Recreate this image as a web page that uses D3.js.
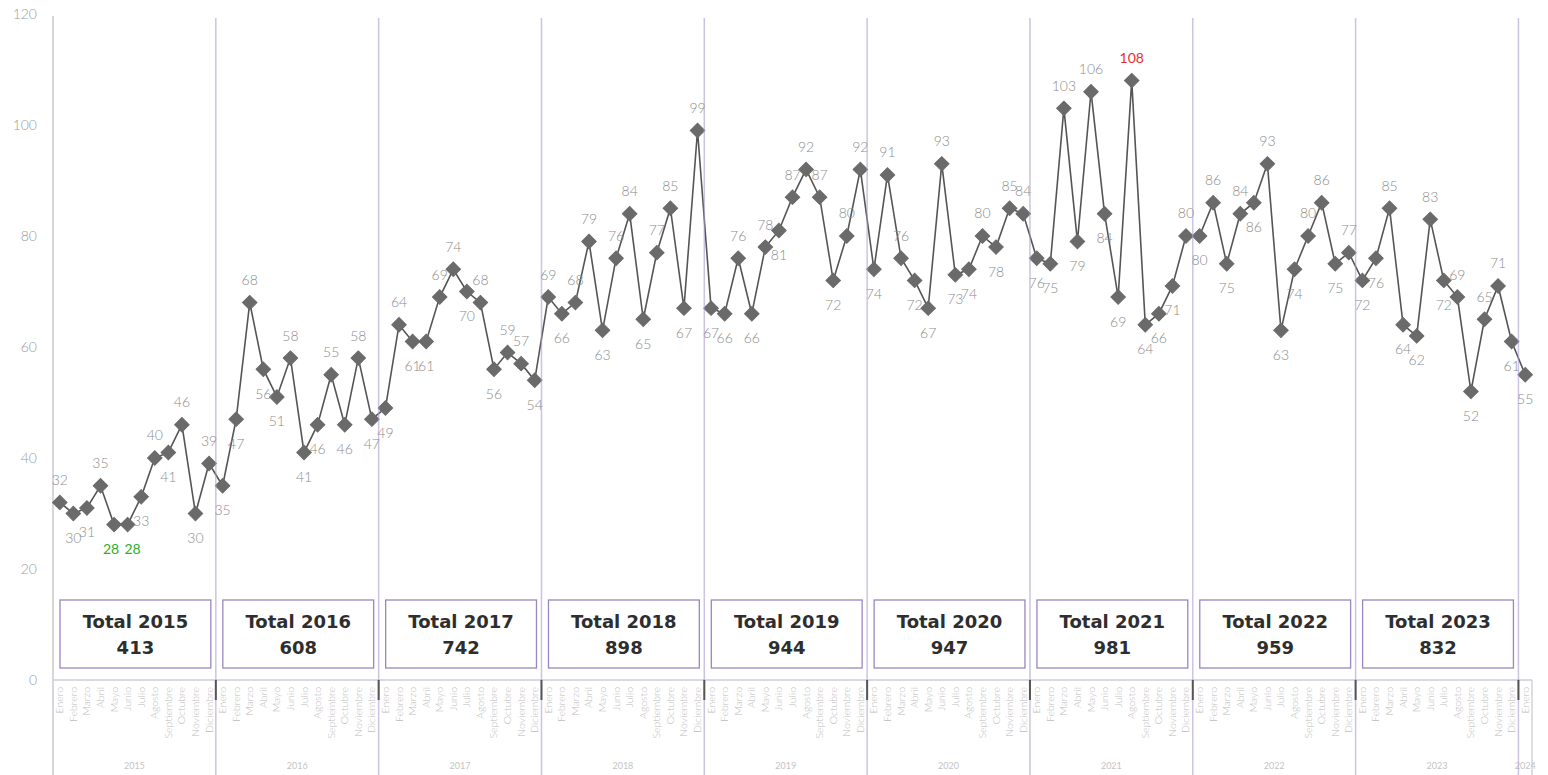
<!DOCTYPE html>
<html>
<head>
<meta charset="utf-8">
<script src="https://cdn.jsdelivr.net/npm/d3@7"></script>
<style>
  body { margin: 0; background: #fff; }
  .chart text { font-family: Lato, "Open Sans", sans-serif; }
  .axis-y text { fill: #9a9a9a; font-size: 14px; font-weight: 300; }
  .month-label { fill: #bdbdbd; font-size: 10.5px; font-weight: 300; }
  .year-label { fill: #c4c4c4; font-size: 9px; }
  .point-label { fill: #8c8c8c; font-size: 14px; font-weight: 300; }
  .chart text.total-text { fill: #2e2e2e; font-size: 18px; font-weight: 700;
      font-family: "DejaVu Sans", sans-serif; }
</style>
</head>
<body>
<div class="chart"></div>
<script>
// Month names (x axis) and years
var MONTHS = ["Enero", "Febrero", "Marzo", "Abril", "Mayo", "Junio", "Julio",
    "Agosto", "Septiembre", "Octubre", "Noviembre", "Diciembre"];
var YEARS = [2015, 2016, 2017, 2018, 2019, 2020, 2021, 2022, 2023, 2024];

// Monthly counts per year
var counts_2015 = [32, 30, 31, 35, 28, 28, 33, 40, 41, 46, 30, 39];
var counts_2016 = [35, 47, 68, 56, 51, 58, 41, 46, 55, 46, 58, 47];
var counts_2017 = [49, 64, 61, 61, 69, 74, 70, 68, 56, 59, 57, 54];
var counts_2018 = [69, 66, 68, 79, 63, 76, 84, 65, 77, 85, 67, 99];
var counts_2019 = [67, 66, 76, 66, 78, 81, 87, 92, 87, 72, 80, 92];
var counts_2020 = [74, 91, 76, 72, 67, 93, 73, 74, 80, 78, 85, 84];
var counts_2021 = [76, 75, 103, 79, 106, 84, 69, 108, 64, 66, 71, 80];
var counts_2022 = [80, 86, 75, 84, 86, 93, 63, 74, 80, 86, 75, 77];
var counts_2023 = [72, 76, 85, 64, 62, 83, 72, 69, 52, 65, 71, 61];
var counts_2024 = [55];

// Y axis ticks
var Y_TICKS = [0, 20, 40, 60, 80, 100, 120];

var counts_by_year = [counts_2015, counts_2016, counts_2017, counts_2018, counts_2019,
    counts_2020, counts_2021, counts_2022, counts_2023, counts_2024];

// Flatten into one series of points
var points = [];
counts_by_year.forEach(function (arr, yi) {
    arr.forEach(function (v, mi) {
        points.push({ year: YEARS[yi], month: MONTHS[mi], value: v, idx: points.length });
    });
});

// Labels that sit on the other side than the neighbour rule says
var LABEL_FLIP = [38, 58, 62, 63, 91];

var W = 1548, H = 775;
var PLOT_LEFT = 53, PLOT_RIGHT = 1532;
var PLOT_TOP = 14, PLOT_BOTTOM = 680;

var svg = d3.select(".chart").append("svg")
        .attr("width", W)
        .attr("height", H);

var x = d3.scaleBand()
        .domain(points.map(function (d) { return d.idx; }))
        .range([PLOT_LEFT, PLOT_RIGHT])
        .padding(0);
var bw = x.bandwidth();
function cx(i) { return x(i) + bw / 2; }

var y = d3.scaleLinear().domain([0, 120]).range([PLOT_BOTTOM, PLOT_TOP]);

// Y axis labels, no line
var yAxis = svg.append("g").attr("class", "axis-y")
        .attr("transform", "translate(37,0)")
        .call(d3.axisLeft(y).tickValues(Y_TICKS).tickSize(0).tickPadding(0));
yAxis.select(".domain").remove();

// Left axis line
svg.append("line")
        .attr("x1", PLOT_LEFT).attr("x2", PLOT_LEFT)
        .attr("y1", y(120) + 2).attr("y2", H)
        .attr("stroke", "#c9c9cf").attr("stroke-width", 1.5);

// Baseline
svg.append("line")
        .attr("x1", PLOT_LEFT).attr("x2", PLOT_RIGHT)
        .attr("y1", y(0)).attr("y2", y(0))
        .attr("stroke", "#cfcbd8").attr("stroke-width", 1.5);

// Year start positions
var yearStarts = YEARS.map(function (yr, i) { return x(i * 12); });

// Total boxes
var totalYears = YEARS.slice(0, 9);
var boxes = svg.append("g");
totalYears.forEach(function (yr, i) {
    var x0 = yearStarts[i] + 7, x1 = yearStarts[i + 1] - 5;
    var total = d3.sum(counts_by_year[i]);
    boxes.append("rect")
            .attr("x", x0).attr("y", 600)
            .attr("width", x1 - x0).attr("height", 68)
            .attr("fill", "#fff")
            .attr("stroke", "#9a86c2").attr("stroke-width", 1.3);
    boxes.append("text").attr("class", "total-text")
            .attr("x", (x0 + x1) / 2).attr("y", 623)
            .attr("text-anchor", "middle").attr("dominant-baseline", "middle")
            .text("Total " + yr);
    boxes.append("text").attr("class", "total-text")
            .attr("x", (x0 + x1) / 2).attr("y", 649)
            .attr("text-anchor", "middle").attr("dominant-baseline", "middle")
            .text(total);
});

// Month labels, rotated
svg.append("g").selectAll("text")
        .data(points)
        .join("text")
        .attr("class", "month-label")
        .attr("transform", function (d) {
            return "translate(" + (cx(d.idx) + 3.5) + ",687) rotate(-90)";
        })
        .attr("text-anchor", "end")
        .text(function (d) { return d.month; });

// Year labels
svg.append("g").selectAll("text")
        .data(YEARS)
        .join("text")
        .attr("class", "year-label")
        .attr("x", function (d, i) {
            var end = i < YEARS.length - 1 ? yearStarts[i + 1] : PLOT_RIGHT;
            return (yearStarts[i] + end) / 2;
        })
        .attr("y", 769)
        .attr("text-anchor", "middle")
        .text(function (d) { return d; });

// The line
var line = d3.line()
        .x(function (d) { return cx(d.idx); })
        .y(function (d) { return y(d.value); });

svg.append("path")
        .datum(points)
        .attr("d", line)
        .attr("fill", "none")
        .attr("stroke", "#555")
        .attr("stroke-width", 1.6);

// Diamond markers
var diamond = d3.symbol().type(d3.symbolSquare).size(105);
svg.append("g").selectAll("path")
        .data(points)
        .join("path")
        .attr("d", diamond)
        .attr("transform", function (d) {
            return "translate(" + cx(d.idx) + "," + y(d.value) + ") rotate(45)";
        })
        .attr("fill", "#6a6a6a")
        .attr("stroke", "#6a6a6a")
        .attr("stroke-width", 1);

// Point labels: above if the point is higher than its neighbours' mean
var vmin = d3.min(points, function (d) { return d.value; });
var vmax = d3.max(points, function (d) { return d.value; });

function isAbove(d) {
    var prev = points[d.idx - 1], next = points[d.idx + 1];
    var pv = prev ? prev.value : d.value;
    var nv = next ? next.value : d.value;
    var up = d.value >= (pv + nv) / 2;
    if (LABEL_FLIP.indexOf(d.idx) !== -1) up = !up;
    return up;
}

// Spread the two equal minimum labels a little apart
var minIdx = points.filter(function (d) { return d.value === vmin; })
        .map(function (d) { return d.idx; });

svg.append("g").selectAll("text")
        .data(points)
        .join("text")
        .attr("class", "point-label")
        .attr("x", function (d) {
            var k = minIdx.indexOf(d.idx);
            if (minIdx.length > 1 && k !== -1) return cx(d.idx) + (k === 0 ? -3 : 5);
            return cx(d.idx);
        })
        .attr("y", function (d) { return y(d.value) + (isAbove(d) ? -21 : 26); })
        .attr("text-anchor", "middle")
        .attr("dominant-baseline", "middle")
        .style("fill", function (d) {
            if (d.value === vmin) return "#2ab02a";
            if (d.value === vmax) return "#e53030";
            return null;
        })
        .style("font-weight", function (d) {
            return (d.value === vmin || d.value === vmax) ? 400 : null;
        })
        .text(function (d) { return d.value; });

// Year separators, drawn on top
var seps = svg.append("g");
yearStarts.slice(1).forEach(function (xs) {
    seps.append("line")
            .attr("x1", xs).attr("x2", xs)
            .attr("y1", 18).attr("y2", H)
            .attr("stroke", "#a99bcc").attr("stroke-opacity", 0.6)
            .attr("stroke-width", 1.5);
    // dark tick under the baseline
    seps.append("line")
            .attr("x1", xs).attr("x2", xs)
            .attr("y1", y(0)).attr("y2", y(0) + 20)
            .attr("stroke", "#555").attr("stroke-width", 2);
});

// Right edge of the last (partial) year
svg.append("line")
        .attr("x1", PLOT_RIGHT).attr("x2", PLOT_RIGHT)
        .attr("y1", y(0)).attr("y2", H)
        .attr("stroke", "#c9c9cf").attr("stroke-width", 1.2);
</script>
</body>
</html>
